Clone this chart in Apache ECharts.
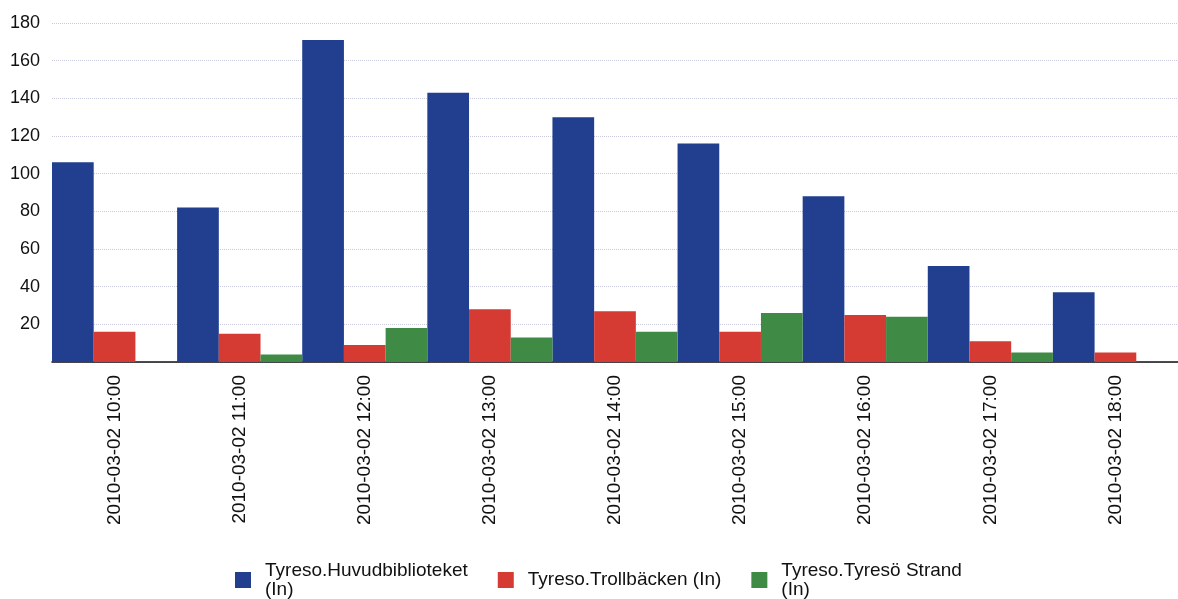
<!DOCTYPE html>
<html>
<head>
<meta charset="utf-8">
<script src="https://cdn.jsdelivr.net/npm/echarts@6/dist/echarts.min.js"></script>
<style>
  html, body { margin: 0; padding: 0; background: #fff; }
  #main { width: 1178px; height: 599px; }
</style>
</head>
<body>
<div id="main"></div>
<script>
var hours = ['2010-03-02 10:00', '2010-03-02 11:00', '2010-03-02 12:00', '2010-03-02 13:00',
  '2010-03-02 14:00', '2010-03-02 15:00', '2010-03-02 16:00', '2010-03-02 17:00', '2010-03-02 18:00'];
var huvud = [106, 82, 171, 143, 130, 116, 88, 51, 37];
var troll = [16, 15, 9, 28, 27, 16, 25, 11, 5];
var strand = [0, 4, 18, 13, 16, 26, 24, 5, 0];
var seriesNames = ['Tyreso.Huvudbiblioteket (In)', 'Tyreso.Trollbäcken (In)', 'Tyreso.Tyresö Strand (In)'];
var legendLabels = ['Tyreso.Huvudbiblioteket\n(In)', 'Tyreso.Trollbäcken (In)', 'Tyreso.Tyresö Strand\n(In)'];
var colors = ['#213e8f', '#d53a33', '#3f8a45'];

var chart = echarts.init(document.getElementById('main'));
var font = 'Liberation Sans, Arial, sans-serif';

function bar(name, data, color) {
  return {
    name: name,
    type: 'bar',
    data: data,
    barGap: '0%',
    barCategoryGap: '0%',
    itemStyle: { color: color },
    animation: false
  };
}

chart.setOption({
  animation: false,
  color: colors,
  grid: { left: 52, right: 0, top: 23, bottom: 237 },
  legend: {
    left: 230,
    top: 556,
    itemWidth: 16,
    itemHeight: 16,
    itemGap: 30,
    icon: 'rect',
    textStyle: { fontFamily: font, fontSize: 19, color: '#111', lineHeight: 19, padding: [0, 0, 0, 9] },
    formatter: function (name) {
      return legendLabels[seriesNames.indexOf(name)];
    }
  },
  xAxis: {
    type: 'category',
    data: hours,
    axisTick: { show: false },
    axisLine: { lineStyle: { color: '#111', width: 1.5 } },
    axisLabel: { rotate: 90, margin: 13, fontFamily: font, fontSize: 19, color: '#111' }
  },
  yAxis: {
    type: 'value',
    min: 0,
    max: 180,
    interval: 20,
    axisLine: { show: false },
    axisTick: { show: false },
    axisLabel: {
      margin: 12, fontFamily: font, fontSize: 18, color: '#111',
      formatter: function (v) { return v === 0 ? '' : v; }
    },
    splitLine: { lineStyle: { color: '#c9c9dc', type: 'dotted', width: 1 } }
  },
  series: [
    bar(seriesNames[0], huvud, colors[0]),
    bar(seriesNames[1], troll, colors[1]),
    bar(seriesNames[2], strand, colors[2])
  ]
});
</script>
</body>
</html>
